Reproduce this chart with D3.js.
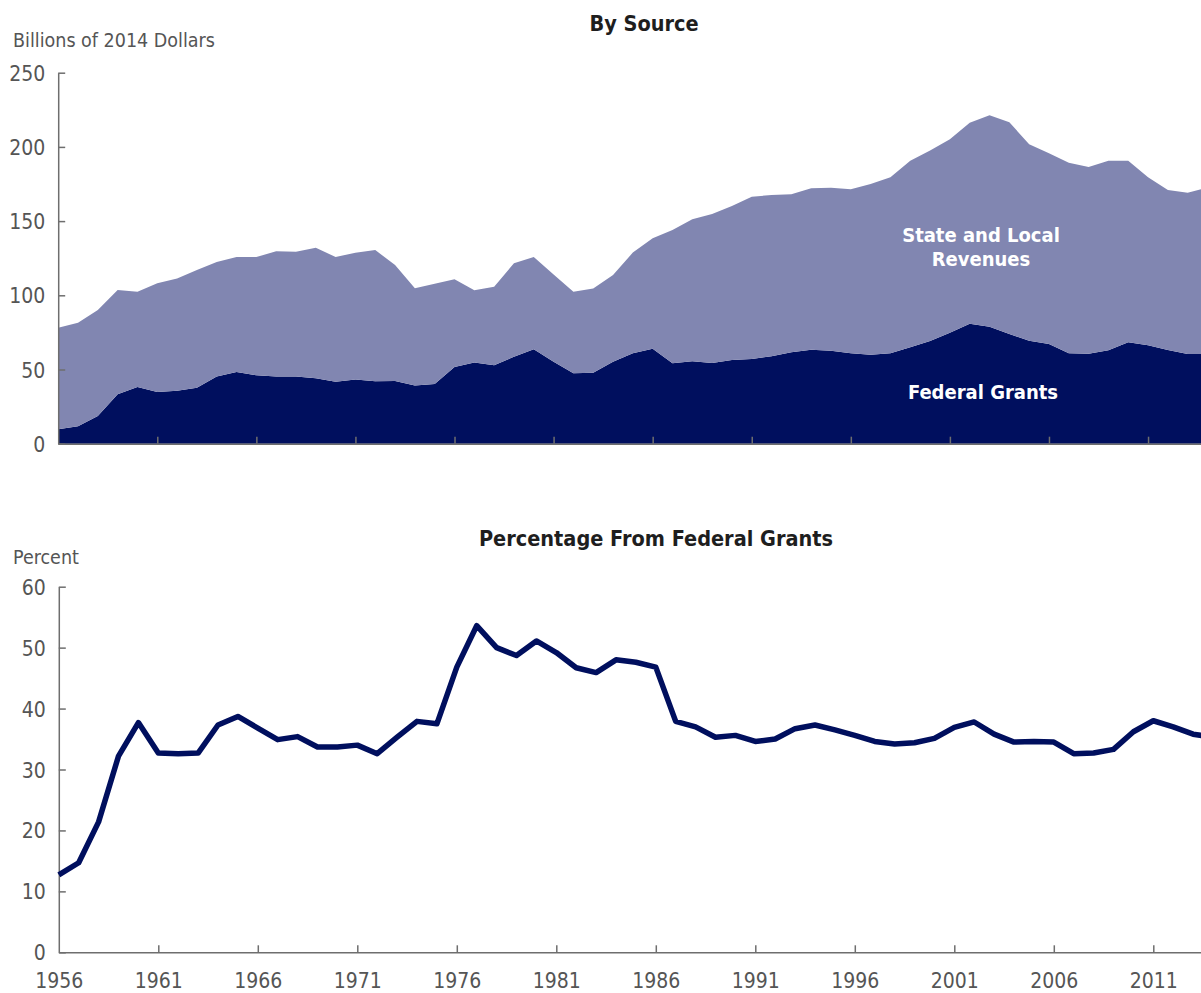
<!DOCTYPE html>
<html>
<head>
<meta charset="utf-8">
<script src="https://cdn.jsdelivr.net/npm/d3@7"></script>
<style>
  html, body { margin: 0; padding: 0; background: #fff; }
  svg { display: block; }
  text { font-family: "Liberation Sans Narrow", "DejaVu Sans Condensed", "DejaVu Sans", sans-serif; font-stretch: condensed; }
</style>
</head>
<body>
<svg id="chart" width="1201" height="993"></svg>
<script>
// ---- Data ----
const years = d3.range(1956, 2015);

const federalGrants = [
  9.7, 11.7, 18.7, 33.3, 38.2, 34.8, 35.7, 37.7, 45.2, 48.3,
  46.1, 45.2, 45.2, 44.1, 41.8, 43.2, 42.0, 42.3, 39.3, 40.2,
  51.7, 54.8, 52.8, 58.6, 63.6, 55.3, 47.4, 47.8, 55.3, 61.0,
  64.0, 54.2, 55.5, 54.4, 56.4, 57.1, 58.9, 61.6, 63.3, 62.7,
  60.9, 60.0, 60.9, 65.0, 69.2, 74.8, 80.9, 78.8, 73.9, 69.4,
  67.2, 60.9, 60.6, 62.9, 68.3, 66.3, 63.1, 60.4, 60.4
];

const stateLocal = [
  68.5, 69.8, 71.4, 70.3, 64.2, 73.3, 75.7, 79.3, 77.2, 77.5,
  79.7, 84.4, 84.2, 88.0, 84.0, 85.5, 88.5, 78.1, 65.4, 67.6,
  59.1, 48.6, 53.0, 63.0, 62.2, 58.8, 55.0, 56.7, 58.4, 67.8,
  74.4, 89.8, 95.7, 100.4, 103.8, 109.3, 108.7, 106.5, 108.8, 109.8,
  110.5, 115.0, 118.6, 125.7, 128.4, 130.3, 135.4, 142.5, 142.7, 132.4,
  128.5, 128.5, 125.9, 127.8, 122.4, 113.2, 107.9, 108.7, 112.1
];

const pctFederal = [
  12.7, 14.7, 21.4, 32.2, 37.7, 32.7, 32.6, 32.7, 37.3, 38.7,
  36.8, 34.9, 35.4, 33.7, 33.7, 34.0, 32.6, 35.3, 37.9, 37.5,
  46.8, 53.6, 50.0, 48.7, 51.1, 49.2, 46.7, 45.9, 48.0, 47.6,
  46.8, 37.9, 37.0, 35.3, 35.6, 34.6, 35.0, 36.7, 37.3, 36.5,
  35.6, 34.6, 34.2, 34.4, 35.1, 36.9, 37.8, 35.8, 34.5, 34.6,
  34.5, 32.6, 32.7, 33.3, 36.2, 38.0, 37.0, 35.8, 35.3
];

const xTickYears = [1956, 1961, 1966, 1971, 1976, 1981, 1986, 1991, 1996, 2001, 2006, 2011];
const topYTicks = [0, 50, 100, 150, 200, 250];
const bottomYTicks = [0, 10, 20, 30, 40, 50, 60];

// ---- Styles ----
const colFederal = "#000f5e";
const colState = "#8186b1";
const axisColor = "#6e6e6e";
const tickTextColor = "#555555";

const svg = d3.select("#chart");

// ---- Top chart: By Source ----
const xTop = d3.scaleLinear().domain([1956, 2014]).range([58.2, 1207.5]);
const yTop = d3.scaleLinear().domain([0, 250]).range([443.7, 72.7]);

const table = years.map((yr, i) => ({ year: yr, federal: federalGrants[i], state: stateLocal[i] }));
const stacked = d3.stack().keys(["federal", "state"])(table);

const area = d3.area()
  .x(d => xTop(d.data.year))
  .y0(d => yTop(d[0]))
  .y1(d => yTop(d[1]));

const topG = svg.append("g");
topG.selectAll("path.layer")
  .data(stacked)
  .join("path")
  .attr("class", "layer")
  .attr("fill", (d, i) => i === 0 ? colFederal : colState)
  .attr("d", area);

function styleAxis(g) {
  g.select(".domain").attr("stroke", axisColor).attr("stroke-width", 1.5);
  g.selectAll(".tick line").attr("stroke", axisColor).attr("stroke-width", 1.5);
  g.selectAll(".tick text").attr("fill", tickTextColor).style("font-size", "21px");
}

// x axis top (ticks only)
const xAxisTop = svg.append("g")
  .attr("transform", `translate(0,${yTop(0)})`)
  .call(d3.axisBottom(xTop).tickValues(xTickYears.slice(1)).tickSize(-7).tickSizeOuter(0).tickFormat(""));
styleAxis(xAxisTop);

// y axis top
const yAxisTop = svg.append("g")
  .attr("transform", `translate(${xTop(1956)},0)`)
  .call(d3.axisLeft(yTop).tickValues(topYTicks).tickSize(-7).tickSizeOuter(0).tickPadding(13));
styleAxis(yAxisTop);
yAxisTop.selectAll(".tick text").attr("dy", "0.36em");

svg.append("text")
  .attr("x", 13).attr("y", 47)
  .attr("fill", tickTextColor)
  .style("font-size", "19.5px")
  .text("Billions of 2014 Dollars");

svg.append("text")
  .attr("x", 644).attr("y", 31)
  .attr("text-anchor", "middle")
  .attr("fill", "#1e1e1e")
  .style("font-size", "21.5px").style("font-weight", "bold")
  .text("By Source");

// Area labels
const labelG = svg.append("g").attr("fill", "#ffffff")
  .style("font-size", "20px").style("font-weight", "bold")
  .attr("text-anchor", "middle");
labelG.append("text").attr("x", 981).attr("y", 242).text("State and Local");
labelG.append("text").attr("x", 981).attr("y", 266).text("Revenues");
labelG.append("text").attr("x", 983).attr("y", 399).text("Federal Grants");

// ---- Bottom chart: Percentage From Federal Grants ----
const xBot = d3.scaleLinear().domain([1956, 2014]).range([58.8, 1213]);
const yBot = d3.scaleLinear().domain([0, 60]).range([952.3, 586.7]);

const xAxisBot = svg.append("g")
  .attr("transform", `translate(0,${yBot(0)})`)
  .call(d3.axisBottom(xBot).tickValues(xTickYears).tickFormat(d3.format("d"))
    .tickSize(-7).tickSizeOuter(0).tickPadding(21));
styleAxis(xAxisBot);
xAxisBot.selectAll(".tick").filter(d => d === 1956).select("line").remove();

const yAxisBot = svg.append("g")
  .attr("transform", `translate(${xBot(1956)},0)`)
  .call(d3.axisLeft(yBot).tickValues(bottomYTicks).tickSize(-7).tickSizeOuter(0).tickPadding(13));
styleAxis(yAxisBot);
yAxisBot.selectAll(".tick text").attr("dy", "0.36em");

const line = d3.line()
  .x((d, i) => xBot(years[i]))
  .y(d => yBot(d));

svg.append("path")
  .datum(pctFederal)
  .attr("fill", "none")
  .attr("stroke", colFederal)
  .attr("stroke-width", 5.5)
  .attr("stroke-linejoin", "round")
  .attr("stroke-linecap", "butt")
  .attr("d", line);

svg.append("text")
  .attr("x", 13).attr("y", 564)
  .attr("fill", tickTextColor)
  .style("font-size", "19.5px")
  .text("Percent");

svg.append("text")
  .attr("x", 656).attr("y", 546)
  .attr("text-anchor", "middle")
  .attr("fill", "#1e1e1e")
  .style("font-size", "21.5px").style("font-weight", "bold")
  .text("Percentage From Federal Grants");
</script>
</body>
</html>
